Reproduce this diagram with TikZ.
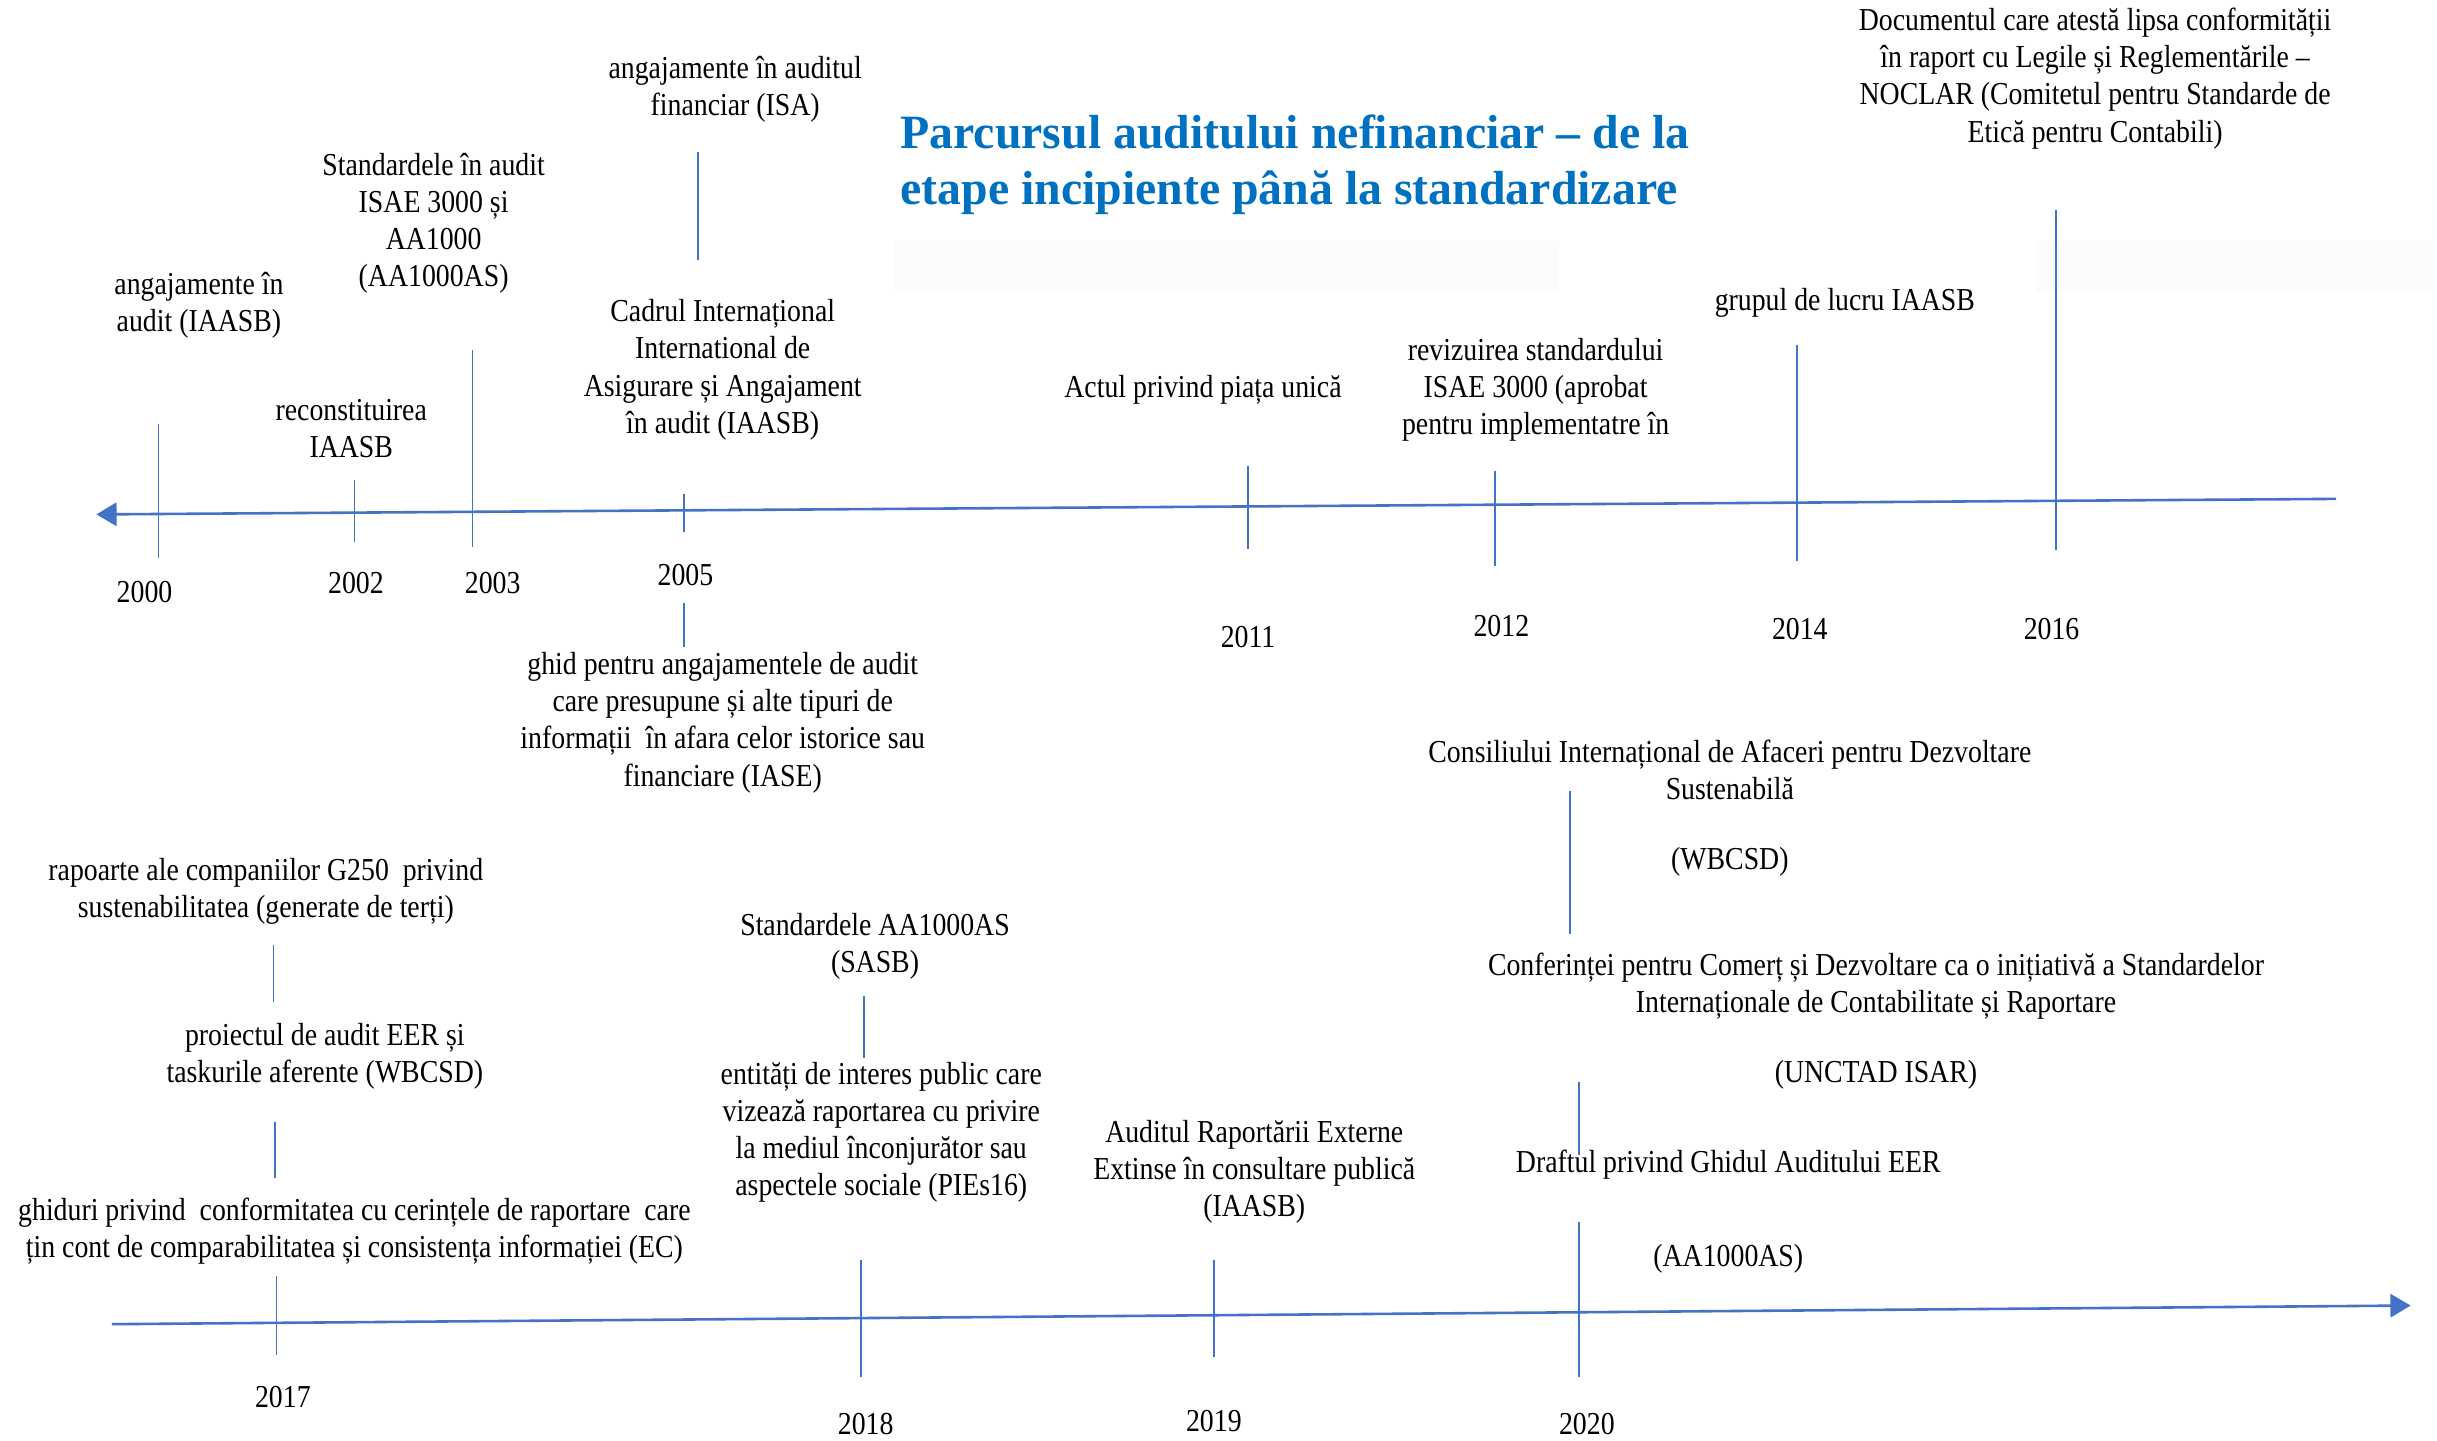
\documentclass[tikz,border=0pt]{standalone}
\usepackage{fontspec}
\setmainfont{Liberation Serif}[FakeStretch=0.87]
\newfontfamily\titlefont{Liberation Serif}
\usepackage{tikz}
\usetikzlibrary{arrows.meta}
\definecolor{TLBlue}{RGB}{68,114,196}
\definecolor{TitleBlue}{RGB}{0,112,192}
\definecolor{FaintGray}{RGB}{251,251,251}

\begin{document}
\begin{tikzpicture}[
          evt/.style={align=center, inner sep=0pt, font=\fontsize{11.7}{13.6}\selectfont},
          yr/.style={inner sep=0pt, font=\fontsize{11.7}{13.6}\selectfont},
          tick/.style={draw=TLBlue, line width=0.6pt},
          axisl/.style={draw=TLBlue, line width=0.95pt,
                        -{Triangle[length=0.26cm, width=0.3cm]}}
        ]
        \useasboundingbox (0,0) rectangle (31.36,18.54);

        % faint boxes behind the title
        \fill[FaintGray] (11.50,14.78) rectangle (20.06,15.44);
        \fill[FaintGray] (26.20,14.78) rectangle (31.30,15.44);

        % the two time axes
        \coordinate (topR) at (30.06,12.12);
        \coordinate (topL) at (1.24,11.92);
        \coordinate (botL) at (1.44,1.50);
        \coordinate (botR) at (31.02,1.74);
        \draw[axisl] (topR) -- (topL);
        \draw[axisl] (botL) -- (botR);

        \node[anchor=west, align=left, inner sep=0pt, text=TitleBlue,
              font=\titlefont\bfseries\fontsize{17.5}{20.4}\selectfont]
              (title) at (11.58,16.42)
              {Parcursul auditului nefinanciar – de la\\etape incipiente până la standardizare};

        % events above the first axis
        \node[evt] (iaasb)  at (2.56,14.61) {angajamente în\\audit (IAASB)};
        \node[evt] (recon)  at (4.52,13.02) {reconstituirea\\IAASB};
        \node[evt] (isae)   at (5.58,15.67) {Standardele în audit\\ISAE 3000 și\\AA1000\\(AA1000AS)};
        \node[evt] (isa)    at (9.46,17.39) {angajamente în auditul\\financiar (ISA)};
        \node[evt] (cadrul) at (9.30,13.78)
              {Cadrul Internațional\\International de\\Asigurare și Angajament\\în audit (IAASB)};
        \node[evt] (piata)  at (15.48,13.52) {Actul privind piața unică};
        \node[evt] (reviz)  at (19.76,13.52)
              {revizuirea standardului\\ISAE 3000 (aprobat\\pentru implementatre în};
        \node[evt] (grup)   at (23.74,14.64) {grupul de lucru IAASB};
        \node[evt] (noclar) at (26.96,17.53)
              {Documentul care atestă lipsa conformității\\în raport cu Legile și Reglementările –\\NOCLAR (Comitetul pentru Standarde de\\Etică pentru Contabili)};
        \node[evt] (iase)   at (9.30,9.24)
              {ghid pentru angajamentele de audit\\care presupune și alte tipuri de\\informații~ în afara celor istorice sau\\financiare (IASE)};

        % years of the first axis
        \node[yr] (y2000) at (1.86,10.92) {2000};
        \node[yr] (y2002) at (4.58,11.04) {2002};
        \node[yr] (y2003) at (6.34,11.04) {2003};
        \node[yr] (y2005) at (8.82,11.14) {2005};
        \node[yr] (y2011) at (16.06,10.34) {2011};
        \node[yr] (y2012) at (19.32,10.48) {2012};
        \node[yr] (y2014) at (23.16,10.44) {2014};
        \node[yr] (y2016) at (26.40,10.44) {2016};

        % ticks of the first axis
        \coordinate (k2000) at (2.04,13.08);
        \coordinate (k2002) at (4.56,12.36);
        \coordinate (k2003) at (6.08,14.04);
        \coordinate (k2005) at (8.80,12.18);
        \coordinate (k2005b) at (8.80,10.78);
        \coordinate (kisa) at (8.98,16.58);
        \coordinate (k2011) at (16.06,12.54);
        \coordinate (k2012) at (19.24,12.48);
        \coordinate (k2014) at (23.12,14.10);
        \coordinate (k2016) at (26.46,15.84);
        \draw[tick] (k2000) -- ++(0,-1.72);
        \draw[tick] (k2002) -- ++(0,-0.80);
        \draw[tick] (k2003) -- ++(0,-2.54);
        \draw[tick] (k2005) -- ++(0,-0.48);
        \draw[tick] (k2005b) -- ++(0,-0.56);
        \draw[tick] (kisa) -- ++(0,-1.38);
        \draw[tick] (k2011) -- ++(0,-1.06);
        \draw[tick] (k2012) -- ++(0,-1.22);
        \draw[tick] (k2014) -- ++(0,-2.78);
        \draw[tick] (k2016) -- ++(0,-4.38);

        % events of the second axis
        \node[evt] (g250)   at (3.42,7.07)
              {rapoarte ale companiilor G250~ privind\\sustenabilitatea (generate de terți)};
        \node[evt] (eer)    at (4.18,4.95) {proiectul de audit EER și\\taskurile aferente (WBCSD)};
        \node[evt] (ec)     at (4.56,2.70)
              {ghiduri privind~ conformitatea cu cerințele de raportare~ care\\țin cont de comparabilitatea și consistența informației (EC)};
        \node[evt] (sasb)   at (11.26,6.36) {Standardele AA1000AS\\(SASB)};
        \node[evt] (pies)   at (11.34,3.97)
              {entități de interes public care\\vizează raportarea cu privire\\la mediul înconjurător sau\\aspectele sociale (PIEs16)};
        \node[evt] (eerpub) at (16.14,3.46)
              {Auditul Raportării Externe\\Extinse în consultare publică\\(IAASB)};
        \node[evt] (wbcsd)  at (22.26,8.14)
              {Consiliului Internațional de Afaceri pentru Dezvoltare\\Sustenabilă\\[12pt](WBCSD)};
        \node[evt] (unctad) at (24.14,5.40)
              {Conferinței pentru Comerț și Dezvoltare ca o inițiativă a Standardelor\\Internaționale de Contabilitate și Raportare\\[12pt](UNCTAD ISAR)};
        \node[evt] (draft)  at (22.24,2.95) {Draftul privind Ghidul Auditului EER\\[21pt](AA1000AS)};

        % years of the second axis
        \node[yr] (y2017) at (3.64,0.56) {2017};
        \node[yr] (y2018) at (11.14,0.22) {2018};
        \node[yr] (y2019) at (15.62,0.26) {2019};
        \node[yr] (y2020) at (20.42,0.22) {2020};

        % ticks of the second axis
        \coordinate (kg250) at (3.52,6.38);
        \coordinate (keer) at (3.54,4.10);
        \coordinate (k2017) at (3.56,2.12);
        \coordinate (ksasb) at (11.12,5.72);
        \coordinate (k2018) at (11.08,2.32);
        \coordinate (k2019) at (15.62,2.32);
        \coordinate (kwbcsd) at (20.20,8.36);
        \coordinate (kunctad) at (20.32,4.62);
        \coordinate (k2020) at (20.32,2.82);
        \draw[tick] (kg250) -- ++(0,-0.74);
        \draw[tick] (keer) -- ++(0,-0.72);
        \draw[tick] (k2017) -- ++(0,-1.02);
        \draw[tick] (ksasb) -- ++(0,-0.80);
        \draw[tick] (k2018) -- ++(0,-1.50);
        \draw[tick] (k2019) -- ++(0,-1.24);
        \draw[tick] (kwbcsd) -- ++(0,-1.84);
        \draw[tick] (kunctad) -- ++(0,-0.94);
        \draw[tick] (k2020) -- ++(0,-2.00);
      \end{tikzpicture}
\end{document}
